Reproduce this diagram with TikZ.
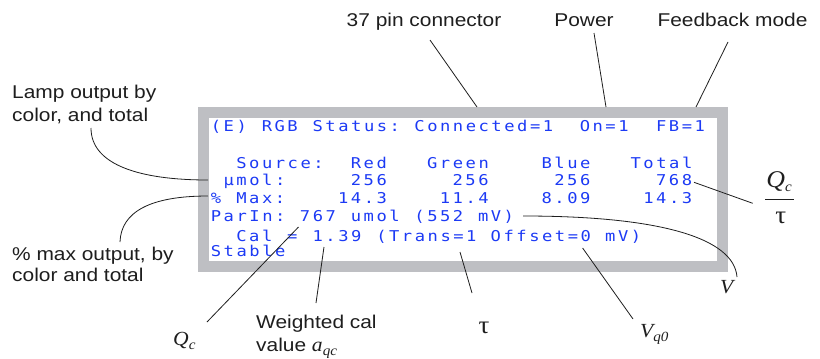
\documentclass[tikz,border=0pt]{standalone}
\usepackage{fontspec}
\newfontfamily\lab{Liberation Sans}[FakeStretch=1.13]
\newfontfamily\mono{DejaVu Sans Mono}[FakeStretch=1.15,LetterSpace=17]
\newfontfamily\ser{Liberation Serif}[FakeStretch=1.08]
\definecolor{scrblue}{RGB}{28,58,245}
\definecolor{framegray}{RGB}{190,191,195}
\definecolor{ink}{RGB}{30,30,30}
\tikzset{
 lbl/.style={font=\lab\fontsize{18.5}{23}\selectfont, inner sep=0pt, anchor=base west, text=ink},
 lblc/.style={lbl, anchor=base},
 mtxt/.style={font=\mono\fontsize{14.9}{17}\selectfont, text=scrblue, inner sep=0pt, anchor=base west},
 sym/.style={font=\ser\fontsize{20}{20}\selectfont\itshape, inner sep=0pt, anchor=base west, text=ink},
 gsym/.style={font=\ser\fontsize{25}{25}\selectfont, inner sep=0pt, anchor=base, text=ink},
 ptr/.style={draw=ink, line width=0.8pt},
}
\newcommand{\subsc}[1]{\raisebox{-4.5pt}{\fontsize{14}{14}\selectfont #1}}
\begin{document}
\begin{tikzpicture}[x=1pt,y=-1pt]
\useasboundingbox[fill=white] (0,0) rectangle (820,359);
% frame
\draw[framegray, line width=11pt, fill=white] (203.5,112.5) rectangle (722.5,266.5);
% screen text
\foreach \c/\w [count=\i] in {0/{(E)},4/RGB,8/{Status:},16/{Connected=1},29/{On=1},35/{FB=1}}
  \node[mtxt] (ra\i) at ({210.7+12.72*\c},131.7) {\w};
\foreach \c/\w [count=\i] in {2/{Source:},11/Red,17/Green,26/Blue,33/Total}
  \node[mtxt] (rb\i) at ({210.7+12.72*\c},168.5) {\w};
\foreach \c/\w [count=\i] in {1/{µmol:},11/256,19/256,27/256,35/768}
  \node[mtxt] (rc\i) at ({210.7+12.72*\c},185.7) {\w};
\foreach \c/\w [count=\i] in {0/{\%},2/{Max:},10/{14.3},18/{11.4},26/{8.09},34/{14.3}}
  \node[mtxt] (rd\i) at ({210.7+12.72*\c},203.2) {\w};
\foreach \c/\w [count=\i] in {0/{ParIn:},7/767,11/umol,16/{(552},21/{mV)}}
  \node[mtxt] (re\i) at ({210.7+12.72*\c},221.7) {\w};
\foreach \c/\w [count=\i] in {2/Cal,6/{=},8/{1.39},13/{(Trans=1},22/{Offset=0},31/{mV)}}
  \node[mtxt] (rf\i) at ({210.7+12.72*\c},241.2) {\w};
\node[mtxt] (rg1) at (210.7,256.7) {Stable};
% labels
\node[lblc] (lpin) at (424,26) {37 pin connector};
\node[lblc] (lpow) at (584,26) {Power};
\node[lblc] (lfb) at (732.5,26) {Feedback mode};
\node[lbl] (lampA) at (12,98) {Lamp output by};
\node[lbl] (lampB) at (12,121) {color, and total};
\node[lbl] (maxA) at (12,260) {\% max output, by};
\node[lbl] (maxB) at (12,281) {color and total};
\node[lbl] (wcA) at (256,328) {Weighted cal};
\node[lbl] (wcB) at (256,351) {value {\ser\itshape\fontsize{20}{20}\selectfont a\subsc{qc}}};
\node[sym] (qcl) at (173,345) {Q\subsc{c}};
\node[gsym] (taub) at (484,333) {τ};
\node[sym] (vq) at (640,337) {V\subsc{q0}};
\node[sym] (vv) at (720,293) {V};
\node[gsym,font=\ser\fontsize{24}{24}\selectfont\itshape] (fq) at (779,187) {Q\subsc{c}};
\node[gsym] (ft) at (780.8,223) {τ};
\draw[ink, line width=0.9pt] (765,199.3) -- (794,199.3);
% connector coordinates
\coordinate (pinA) at (430,40);   \coordinate (pinB) at (477,107);
\coordinate (powA) at (594,33);   \coordinate (powB) at (606,107);
\coordinate (fbA) at (728,42);    \coordinate (fbB) at (696,107);
\coordinate (lampS) at (91,128);  \coordinate (lampE) at (208,180);
\coordinate (maxS) at (120,242);  \coordinate (maxE) at (208,196);
\coordinate (qcS) at (207,322);   \coordinate (qcE) at (298.5,227);
\coordinate (wcS) at (316,303);   \coordinate (wcE) at (324,247);
\coordinate (tauS) at (472,293);  \coordinate (tauE) at (460,252);
\coordinate (vqS) at (633,319);   \coordinate (vqE) at (582.6,248);
\coordinate (frS) at (752.7,203.3); \coordinate (frE) at (694,182.3);
\coordinate (vS) at (737,277);    \coordinate (vE) at (523,216);
% connectors
\draw[ptr] (pinA) -- (pinB);
\draw[ptr] (powA) -- (powB);
\draw[ptr] (fbA) -- (fbB);
\draw[ptr] (lampS) .. controls (91,165) and (140,180) .. (lampE);
\draw[ptr] (maxS) .. controls (121,212) and (150,196) .. (maxE);
\draw[ptr] (qcS) -- (qcE);
\draw[ptr] (wcS) -- (wcE);
\draw[ptr] (tauS) -- (tauE);
\draw[ptr] (vqS) -- (vqE);
\draw[ptr] (frS) -- (frE);
\draw[ptr] (vS) .. controls (734,238) and (660,216) .. (vE);
\end{tikzpicture}
\end{document}
